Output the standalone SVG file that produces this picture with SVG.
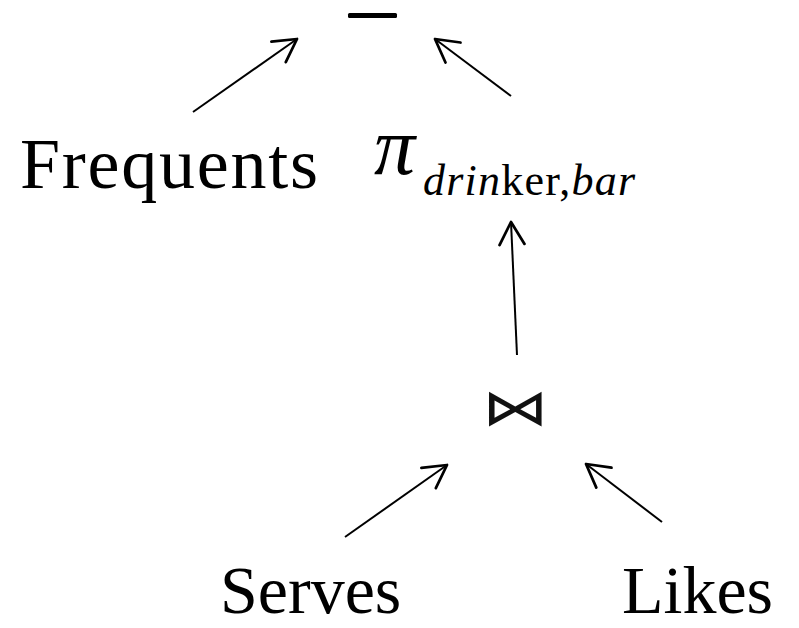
<svg xmlns="http://www.w3.org/2000/svg" width="799" height="628" viewBox="0 0 799 628">
<defs>
<marker id="ah" markerUnits="userSpaceOnUse" markerWidth="30" markerHeight="30" refX="20" refY="12" orient="auto" viewBox="0 0 24 24">
<path d="M2,2 L20,12 L2,22" fill="none" stroke="#000" stroke-width="2.2" stroke-linecap="round" stroke-linejoin="round"/>
</marker>
<style>
.t{font-family:"Liberation Serif","Times New Roman",serif;fill:#000}
.e{stroke:#000;stroke-width:2;fill:none;marker-end:url(#ah)}
</style>
</defs>
<rect width="799" height="628" fill="#fff"/>
<g id="minus"><rect x="348" y="13" width="49" height="5" rx="1.5" fill="#000"/></g>
<g id="frequents"><text class="t" x="20" y="188" font-size="72" textLength="298" lengthAdjust="spacing">Frequents</text></g>
<g id="project"><text class="t" x="374" y="174" font-size="82" font-style="italic">π</text><text class="t" x="423" y="195" font-size="44" textLength="212" lengthAdjust="spacing"><tspan font-style="italic">drin</tspan>ker,<tspan font-style="italic">bar</tspan></text></g>
<g id="join"><text transform="translate(515.5,425) scale(1.45,1.1)" x="0" y="0" font-size="46" text-anchor="middle" font-family="DejaVu Sans, sans-serif" fill="#111">⋈</text></g>
<g id="serves"><text class="t" x="220" y="613" font-size="68">Serves</text></g>
<g id="likes"><text class="t" x="622" y="613" font-size="68">Likes</text></g>
<g id="connectors">
<line class="e" x1="193" y1="112" x2="297" y2="39"/>
<line class="e" x1="511" y1="96" x2="435" y2="39"/>
<line class="e" x1="517" y1="355" x2="511" y2="222"/>
<line class="e" x1="345" y1="537" x2="447" y2="465"/>
<line class="e" x1="662" y1="522" x2="586" y2="464"/>
</g>
</svg>
